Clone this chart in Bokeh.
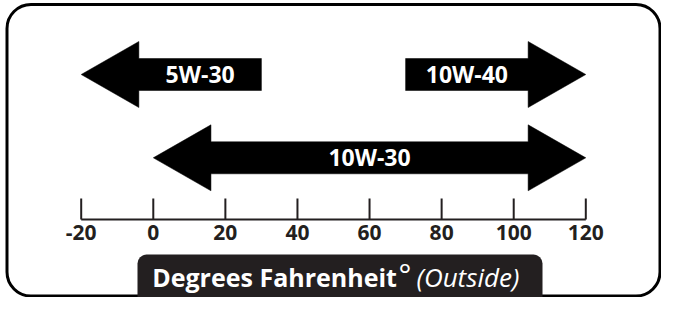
from bokeh.plotting import figure
from bokeh.models import Range1d, BoxAnnotation
from bokeh.core.properties import value
from bokeh.embed import file_html
from bokeh.resources import INLINE

# ---- data ----
oils = ["5W-30", "10W-40", "10W-30"]
temp_low = [-20, 70, 0]
temp_high = [30, 120, 120]
points_left = [True, False, True]
points_right = [False, True, True]
rows = [0, 0, 1]
tick_values = [-20, 0, 20, 40, 60, 80, 100, 120]
tick_labels = ["-20", "0", "20", "40", "60", "80", "100", "120"]
axis_title = "Degrees Fahrenheit"
degree_sign = "°"
axis_note = "(Outside)"

# ---- layout ----
W, H = 661, 297
S = 3.6043                 # px per degree
X0 = -20 - 80.7 / S        # degree at left edge


def xd(px):
    return X0 + px / S


FONT = value("Open Sans")
DARK = "#231f20"
HEAD = 16                  # arrow head length, degrees
ROW_Y = [74, 157.3]
SHAFT = 16
HEADH = 33

p = figure(width=W, height=H, x_range=Range1d(X0, X0 + W / S), y_range=Range1d(H, 0),
           output_backend="svg", toolbar_location=None, min_border=0,
           x_axis_location=None, y_axis_location=None, outline_line_color=None,
           background_fill_color="white", border_fill_color="white")
p.grid.visible = False

# outer rounded frame
p.add_layout(BoxAnnotation(left=xd(6.5), right=xd(659.5), top=4, bottom=295.5,
                           fill_alpha=0, line_color="black", line_alpha=1, line_width=3,
                           border_radius=24, level="underlay"))
# title box
p.add_layout(BoxAnnotation(left=xd(137), right=xd(542), top=254, bottom=340,
                           fill_color=DARK, fill_alpha=1, line_color=None,
                           border_radius=9, level="underlay"))

xs, ys, lx, ly = [], [], [], []
for lo, hi, pl, pr, r in zip(temp_low, temp_high, points_left, points_right, rows):
    c = ROW_Y[r]
    px, py = [], []
    sl = lo + HEAD if pl else lo
    sr = hi - HEAD if pr else hi
    if pl:
        px += [lo, sl, sl]
        py += [c, c - HEADH, c - SHAFT]
    else:
        px += [lo]
        py += [c - SHAFT]
    if pr:
        px += [sr, sr, hi, sr, sr]
        py += [c - SHAFT, c - HEADH, c, c + HEADH, c + SHAFT]
    else:
        px += [hi, hi]
        py += [c - SHAFT, c + SHAFT]
    if pl:
        px += [sl, sl]
        py += [c + SHAFT, c + HEADH]
    else:
        px += [lo]
        py += [c + SHAFT]
    xs.append(px)
    ys.append(py)
    lx.append((sl + sr) / 2)
    ly.append(c - 1)

p.patches(xs=xs, ys=ys, fill_color="black", line_color="black", line_width=0.5)
p.text(x=lx, y=ly, text=oils, text_color="white", text_font=FONT,
       text_font_size="23px", text_font_style="bold", text_align="center",
       text_baseline="middle")

# axis
p.segment(x0=[min(tick_values)], y0=[219], x1=[max(tick_values)], y1=[219],
          line_color=DARK, line_width=2)
p.segment(x0=tick_values, y0=[198] * len(tick_values), x1=tick_values,
          y1=[219] * len(tick_values), line_color=DARK, line_width=2)
p.text(x=tick_values, y=[232] * len(tick_values), text=tick_labels, text_color=DARK,
       text_font=FONT, text_font_size="21px", text_font_style="bold",
       text_align="center", text_baseline="middle")

# axis title
p.text(x=[xd(151.7)], y=[276], text=[axis_title], text_color="white", text_font=FONT,
       text_font_size="25px", text_font_style="bold", text_align="left",
       text_baseline="middle")
p.text(x=[xd(398)], y=[273], text=[degree_sign], text_color="white", text_font=FONT,
       text_font_size="30px", text_font_style="normal", text_align="left",
       text_baseline="middle")
p.text(x=[xd(416)], y=[276], text=[axis_note], text_color="white", text_font=FONT,
       text_font_size="26px", text_font_style="italic", text_align="left",
       text_baseline="middle")

open("out.html", "w").write(file_html(p, INLINE))
